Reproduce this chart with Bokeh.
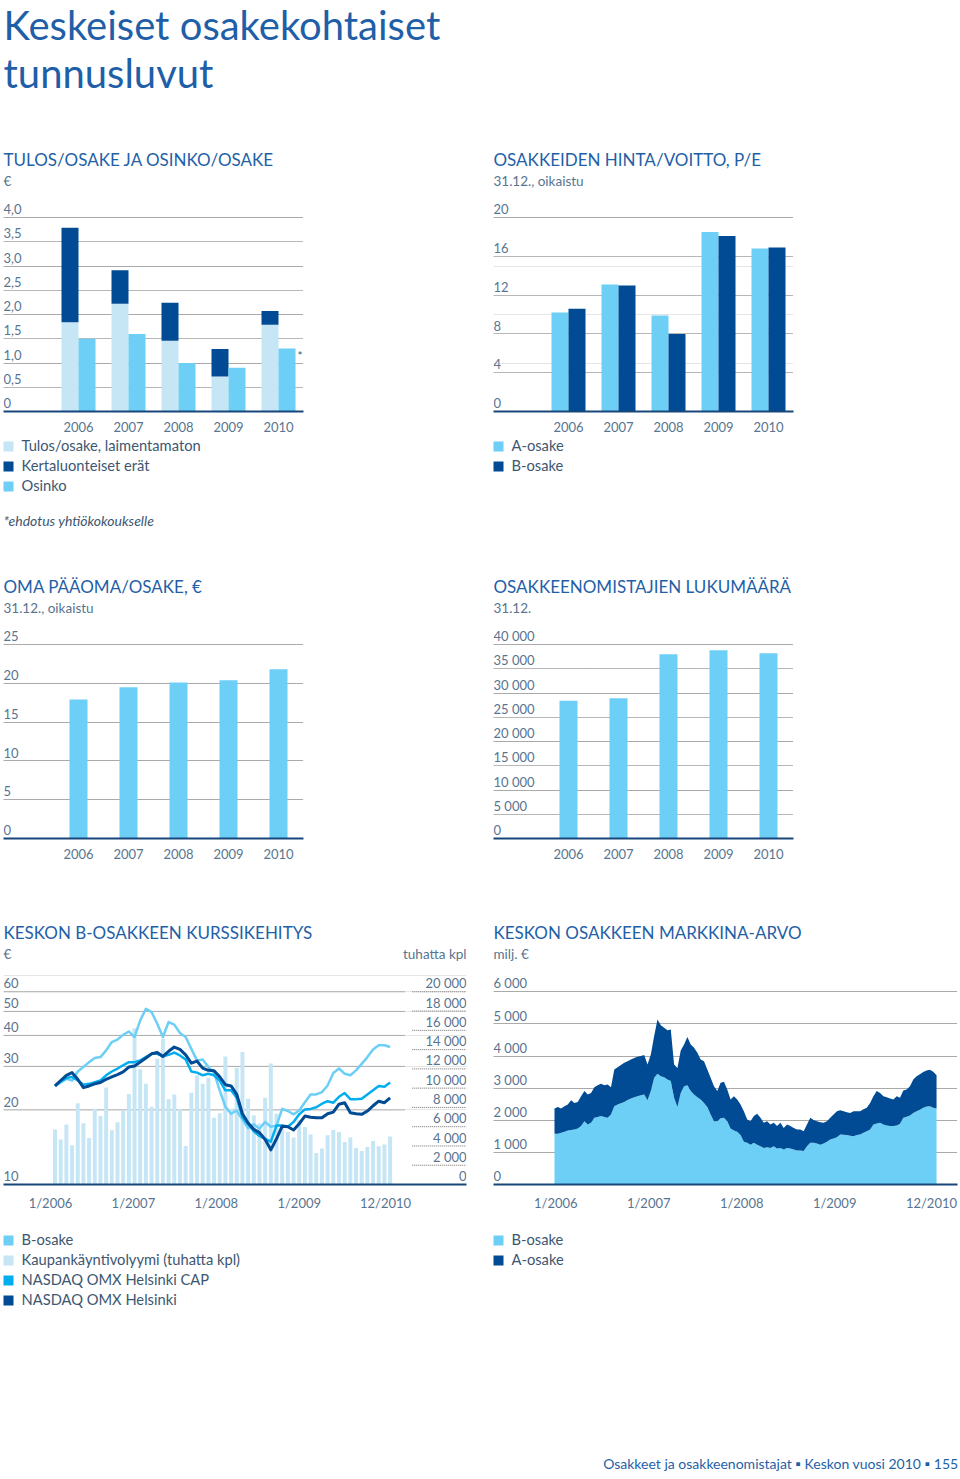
import numpy as np
from bokeh.plotting import figure
from bokeh.models import Range1d, FixedTicker, CustomJSTickFormatter, Grid, LinearScale
from bokeh.layouts import column, row
from bokeh.core.properties import value
from bokeh.embed import file_html
from bokeh.resources import INLINE

FONT = "Lato"
C_TITLE = "#1f5fa8"
C_TICK = "#58748f"
C_TEXT = "#3d5771"
C_PALE = "#c6e6f6"
C_LIGHT = "#6dcff6"
C_CYAN = "#00aeef"
C_DARK = "#004b93"
C_BASE = "#16467a"
C_GRID = "#6e6e6e"

# ---------------- data ----------------
years = ["2006", "2007", "2008", "2009", "2010"]
year_pos = [0, 1, 2, 3, 4]

eps_excl = [1.84, 2.22, 1.46, 0.72, 1.79]        # Tulos/osake, laimentamaton
eps_nonrec = [1.95, 0.69, 0.78, 0.57, 0.28]      # Kertaluonteiset erät
dividend = [1.50, 1.60, 1.00, 0.90, 1.30]        # Osinko
eps_ticks = [0, 0.5, 1.0, 1.5, 2.0, 2.5, 3.0, 3.5, 4.0]
eps_labels = ["0", "0,5", "1,0", "1,5", "2,0", "2,5", "3,0", "3,5", "4,0"]

pe_a = [10.2, 13.1, 9.9, 18.5, 16.8]
pe_b = [10.6, 13.0, 8.0, 18.1, 16.9]
pe_ticks = [0, 4, 8, 12, 16, 20]
pe_labels = ["0", "4", "8", "12", "16", "20"]

equity = [17.9, 19.5, 20.1, 20.4, 21.8]
eq_ticks = [0, 5, 10, 15, 20, 25]
eq_labels = ["0", "5", "10", "15", "20", "25"]

holders = [28400, 28900, 38000, 38800, 38200]
ho_ticks = [0, 5000, 10000, 15000, 20000, 25000, 30000, 35000, 40000]
ho_labels = ["0", "5 000", "10 000", "15 000", "20 000", "25 000", "30 000", "35 000", "40 000"]

months = list(range(60))
volume = [5700, 4660, 6220, 4070, 8420, 6350, 4830, 7870, 7110, 10080,
          5630, 6450, 7660, 9390, 16220, 11950, 10460, 8080, 13050, 15130,
          8840, 9350, 7830, 4000, 9530, 11320, 10460, 11080, 6940, 7390,
          13290, 7870, 12120, 13740, 8910, 7180, 6320, 9010, 12570, 7350,
          5870, 5450, 4870, 6660, 5970, 5180, 3280, 3730, 5110, 5660,
          5450, 4410, 4870, 3790, 3480, 3900, 4520, 3970, 4140, 4970]
b_price = [25.0, 25.8, 26.7, 26.3, 28.6, 29.8, 31.2, 32.4, 32.7, 34.8,
           37.6, 38.5, 40.2, 41.5, 39.4, 46.0, 51.2, 49.7, 44.6, 39.4,
           45.3, 44.2, 40.9, 39.4, 35.3, 31.7, 32.0, 29.8, 28.3, 24.0,
           20.6, 19.3, 19.9, 18.3, 16.9, 17.5, 16.8, 17.9, 17.1, 17.3,
           20.2, 19.8, 19.2, 19.9, 21.5, 23.1, 23.1, 23.6, 25.1, 28.2,
           29.4, 28.0, 27.6, 28.9, 30.7, 32.7, 35.1, 36.5, 36.5, 35.9]
cap_index = [25.0, 26.1, 26.9, 27.2, 26.3, 25.3, 25.5, 25.9, 26.3, 27.6,
             28.6, 29.4, 30.3, 31.2, 31.2, 31.7, 32.7, 33.7, 33.7, 32.9,
             33.4, 34.1, 33.2, 32.0, 28.6, 28.3, 27.6, 28.0, 27.6, 26.3,
             24.0, 24.0, 22.4, 18.7, 17.5, 16.4, 15.7, 15.3, 14.9, 17.3,
             17.3, 17.1, 17.9, 19.2, 20.1, 20.2, 20.5, 21.2, 21.7, 21.4,
             22.6, 23.4, 22.1, 22.1, 22.2, 23.1, 24.0, 25.0, 24.8, 25.8]
omx_index = [25.0, 26.3, 27.6, 28.3, 26.6, 24.6, 25.0, 25.5, 25.8, 26.6,
             27.2, 27.8, 28.5, 29.8, 30.1, 31.2, 32.4, 33.7, 34.1, 32.9,
             34.5, 35.9, 35.1, 33.4, 30.9, 31.5, 29.5, 28.9, 28.8, 27.2,
             25.3, 25.0, 23.1, 19.3, 17.7, 16.7, 16.2, 15.2, 13.8, 15.3,
             17.2, 17.1, 16.6, 17.6, 18.9, 18.7, 18.6, 18.6, 19.3, 19.6,
             21.1, 21.4, 19.5, 19.3, 19.2, 19.8, 20.8, 21.7, 21.4, 22.4]
price_ticks = [10, 20, 30, 40, 50, 60]
price_labels = ["10", "20", "30", "40", "50", "60"]
vol_ticks = [0, 2000, 4000, 6000, 8000, 10000, 12000, 14000, 16000, 18000, 20000]
vol_labels = ["0", "2 000", "4 000", "6 000", "8 000", "10 000", "12 000",
              "14 000", "16 000", "18 000", "20 000"]
kurssi_xpos = [-0.8, 13.8, 28.4, 43.0, 58.2]
kurssi_xlabels = ["1/2006", "1/2007", "1/2008", "1/2009", "12/2010"]

# market value, milj. EUR, sampled about every 16 days, 1/2006 - 12/2010
cap_total = [2370, 2410, 2370, 2440, 2490, 2620, 2540, 2570, 2750, 2910,
             2800, 2850, 3030, 3090, 3140, 3090, 3110, 3030, 3580, 3650,
             3720, 3790, 3840, 3890, 3940, 3980, 4000, 4030, 3740, 4050,
             4620, 5140, 4960, 4880, 4800, 4830, 3740, 3630, 4170, 4360,
             4590, 4360, 4260, 4100, 3890, 3840, 3580, 3320, 3060, 2910,
             3170, 3200, 2960, 2650, 2750, 2650, 2490,
             2280, 2020, 1970, 2130, 2200, 2080, 1920, 1970, 1870, 1920,
             1820, 1920, 1760, 1870, 1820, 1760, 1710, 1710, 1660, 1870,
             2080, 2010, 1970, 1940, 1920, 1970, 2080, 2180, 2280, 2310,
             2280, 2250, 2230, 2280, 2280, 2280, 2340, 2390, 2540, 2750,
             2910, 2850, 2750, 2720, 2680, 2650, 2750, 2700, 2930, 2960,
             3060, 3270, 3370, 3430, 3500, 3550, 3570, 3510, 3400]
cap_b = [1580, 1580, 1610, 1640, 1680, 1700, 1710, 1740, 1820, 1970,
         1870, 1920, 2080, 2100, 2130, 2100, 2080, 2180, 2440, 2490,
         2530, 2570, 2630, 2680, 2720, 2750, 2780, 2800, 2620, 2910,
         3320, 3450, 3370, 3340, 3270, 3220, 2700, 2410, 2850, 3060,
         3090, 2910, 2800, 2720, 2650, 2540, 2410, 2180, 1970, 1970,
         2060, 2080, 1970, 1740, 1680, 1640, 1540,
         1330, 1300, 1240, 1300, 1240, 1190, 1140, 1160, 1140, 1190,
         1120, 1140, 1090, 1140, 1120, 1090, 1060, 1060, 1040, 1190,
         1300, 1300, 1280, 1240, 1280, 1330, 1400, 1430, 1470, 1560,
         1550, 1540, 1520, 1500, 1540, 1560, 1610, 1660, 1710, 1870,
         1900, 1920, 1870, 1840, 1820, 1820, 1840, 1890, 2080, 2110,
         2150, 2230, 2280, 2330, 2390, 2430, 2440, 2390, 2370]
cap_t = np.linspace(0, 60, len(cap_total))
mv_ticks = [0, 1000, 2000, 3000, 4000, 5000, 6000]
mv_labels = ["0", "1 000", "2 000", "3 000", "4 000", "5 000", "6 000"]
mv_xpos = [0.2, 14.8, 29.4, 44.0, 59.2]
mv_xlabels = ["1/2006", "1/2007", "1/2008", "1/2009", "12/2010"]

SHIFT = 0.415  # baseline correction (fraction of font size)


# ---------------- helpers ----------------
def strip(h):
    p = figure(width=960, height=h, x_range=Range1d(0, 960), y_range=Range1d(h, 0),
               x_axis_type=None, y_axis_type=None, toolbar_location=None,
               output_backend="svg", min_border=0, outline_line_color=None, title=None)
    return p


def put(p, x, y, s, size, color, align="left", style="normal"):
    p.text(x=[x], y=[y - SHIFT * size], text=[s], text_font=value(FONT),
           text_font_size=f"{size}px", text_color=color, text_align=align,
           text_baseline="alphabetic", text_font_style=style)


def square(p, x, yc, color):
    p.rect(x=[x + 5], y=[yc], width=10, height=10, fill_color=color, line_color=None)


def chart(w, h, left, fw, fh, xr, yr, xpos, xlabels, **kw):
    p = figure(width=w, height=h, x_range=xr, y_range=yr, y_axis_location=None,
               toolbar_location=None, output_backend="svg", title=None,
               min_border_left=left, min_border_right=w - left - fw, min_border_top=0,
               min_border_bottom=h - fh, outline_line_color=None, **kw)
    p.xgrid.grid_line_color = None
    ax = p.xaxis[0]
    ax.axis_line_color = C_BASE
    ax.axis_line_width = 2
    ax.major_tick_line_color = None
    ax.minor_tick_line_color = None
    ax.major_label_text_font = FONT
    ax.major_label_text_font_size = "13px"
    ax.major_label_text_color = C_TICK
    ax.major_label_standoff = 4
    ax.ticker = FixedTicker(ticks=list(xpos))
    ax.formatter = CustomJSTickFormatter(
        args=dict(pos=list(xpos), labs=list(xlabels)),
        code="const i = pos.findIndex((v) => Math.abs(v - tick) < 1e-6); return i < 0 ? '' : labs[i];")
    return p


def ygrid(p, ticks):
    p.add_layout(Grid(dimension=1, ticker=FixedTicker(ticks=ticks), grid_line_color=C_GRID,
                      grid_line_dash="1 1", grid_line_width=1))


def ylabels(p, x, ticks, labels, align="left", **kw):
    p.text(x=[x] * len(ticks), y=ticks, text=labels, text_font=value(FONT),
           text_font_size="13px", text_color=C_TICK, text_align=align,
           text_baseline="alphabetic", y_offset=-3 - SHIFT * 13, **kw)


xs = np.array(year_pos, dtype=float)
TS = 17  # section title size

# ---------------- header strip ----------------
t0 = strip(200)
put(t0, 3, 41, "Keskeiset osakekohtaiset", 40, C_TITLE)
put(t0, 3, 89, "tunnusluvut", 40, C_TITLE)
put(t0, 3, 166, "TULOS/OSAKE JA OSINKO/OSAKE", TS, C_TITLE)
put(t0, 493, 166, "OSAKKEIDEN HINTA/VOITTO, P/E", TS, C_TITLE)
put(t0, 3, 186, "€", 13.5, C_TICK)
put(t0, 493, 186, "31.12., oikaistu", 13.5, C_TICK)

# ---------------- section 1 charts ----------------
p1 = chart(490, 236, 3, 300, 211, Range1d(-1.5, 4.5), Range1d(0, 4.0 * 211 / 194),
           year_pos, years)
ygrid(p1, eps_ticks[1:])
p1.vbar(x=xs - 0.17, width=0.34, bottom=0, top=eps_excl, fill_color=C_PALE, line_color=None)
p1.vbar(x=xs - 0.17, width=0.34, bottom=eps_excl, top=list(np.add(eps_excl, eps_nonrec)),
        fill_color=C_DARK, line_color=None)
p1.vbar(x=xs + 0.17, width=0.34, bottom=0, top=dividend, fill_color=C_LIGHT, line_color=None)
ylabels(p1, -1.5, eps_ticks, eps_labels)
p1.text(x=[xs[4] + 0.38], y=[dividend[4]], text=["*"], text_font=value(FONT),
        text_font_size="12px", text_color=C_TEXT, text_baseline="top")

p2 = chart(470, 236, 3, 300, 211, Range1d(-1.5, 4.5), Range1d(0, 20 * 211 / 194),
           year_pos, years)
ygrid(p2, pe_ticks[1:])
p2.vbar(x=xs - 0.17, width=0.34, top=pe_a, fill_color=C_LIGHT, line_color=None)
p2.vbar(x=xs + 0.17, width=0.34, top=pe_b, fill_color=C_DARK, line_color=None)
ylabels(p2, -1.5, pe_ticks, pe_labels)

# ---------------- strip 1 ----------------
LS = 14.7  # legend text size
t1 = strip(191)
for i, (lab, col) in enumerate([("Tulos/osake, laimentamaton", C_PALE),
                                ("Kertaluonteiset erät", C_DARK),
                                ("Osinko", C_LIGHT)]):
    square(t1, 3, 10 + 20 * i, col)
    put(t1, 21, 15 + 20 * i, lab, LS, C_TEXT)
for i, (lab, col) in enumerate([("A-osake", C_LIGHT), ("B-osake", C_DARK)]):
    square(t1, 493, 10 + 20 * i, col)
    put(t1, 511, 15 + 20 * i, lab, LS, C_TEXT)
put(t1, 3, 90, "*ehdotus yhtiökokoukselle", 14, C_TEXT, style="italic")
put(t1, 3, 157, "OMA PÄÄOMA/OSAKE, €", TS, C_TITLE)
put(t1, 493, 157, "OSAKKEENOMISTAJIEN LUKUMÄÄRÄ", TS, C_TITLE)
put(t1, 3, 177, "31.12., oikaistu", 13.5, C_TICK)
put(t1, 493, 177, "31.12.", 13.5, C_TICK)

# ---------------- section 2 charts ----------------
p3 = chart(490, 243, 3, 300, 211, Range1d(-1.5, 4.5), Range1d(0, 25 * 211 / 194),
           year_pos, years)
ygrid(p3, eq_ticks[1:])
p3.vbar(x=xs, width=0.36, top=equity, fill_color=C_LIGHT, line_color=None)
ylabels(p3, -1.5, eq_ticks, eq_labels)

p4 = chart(470, 243, 3, 300, 211, Range1d(-1.5, 4.5), Range1d(0, 40000 * 211 / 194),
           year_pos, years)
ygrid(p4, ho_ticks[1:])
p4.vbar(x=xs, width=0.36, top=holders, fill_color=C_LIGHT, line_color=None)
ylabels(p4, -1.5, ho_ticks, ho_labels)

# ---------------- strip 2 ----------------
t2 = strip(102)
put(t2, 3, 69, "KESKON B-OSAKKEEN KURSSIKEHITYS", TS, C_TITLE)
put(t2, 493, 69, "KESKON OSAKKEEN MARKKINA-ARVO", TS, C_TITLE)
put(t2, 3, 89, "€", 13.5, C_TICK)
put(t2, 466, 89, "tuhatta kpl", 13.5, C_TICK, align="right")
put(t2, 493, 89, "milj. €", 13.5, C_TICK)

# ---------------- section 3 charts ----------------
x0, x1 = -9.07, 72.45
p5 = chart(490, 243, 3, 463, 212, Range1d(x0, x1), Range1d(10, 10 * 6 ** (212 / 192.7)),
           kurssi_xpos, kurssi_xlabels, y_axis_type="log")
p5.extra_y_ranges = {"vol": Range1d(0, 20000 * 212 / 192.7)}
p5.extra_y_scales = {"vol": LinearScale()}
p5.segment(x0=x0, x1=61.7, y0=price_ticks[1:], y1=price_ticks[1:], line_color=C_GRID,
           line_dash="1 1", line_width=1)
p5.segment(x0=62.9, x1=x1, y0=vol_ticks[1:], y1=vol_ticks[1:], line_color=C_GRID,
           line_dash="1 1", line_width=1, y_range_name="vol")
p5.vbar(x=months, width=0.7, top=volume, bottom=0, fill_color=C_PALE, line_color=None,
        y_range_name="vol")
p5.line(months, b_price, line_color=C_LIGHT, line_width=2.5, line_join="round")
p5.line(months, cap_index, line_color=C_CYAN, line_width=2.5, line_join="round")
p5.line(months, omx_index, line_color=C_DARK, line_width=3, line_join="round")
ylabels(p5, x0, price_ticks, price_labels)
ylabels(p5, x1, vol_ticks, vol_labels, align="right", y_range_name="vol")

p6 = chart(470, 243, 3, 464, 212, Range1d(-9.58, 63.29), Range1d(0, 6000 * 212 / 192.7),
           mv_xpos, mv_xlabels)
ygrid(p6, mv_ticks[1:])
p6.varea(x=cap_t, y1=0, y2=cap_b, fill_color=C_LIGHT)
p6.varea(x=cap_t, y1=cap_b, y2=cap_total, fill_color=C_DARK)
ylabels(p6, -9.58, mv_ticks, mv_labels)

# ---------------- strip 3 ----------------
t3 = strip(264)
for i, (lab, col) in enumerate([("B-osake", C_LIGHT),
                                ("Kaupankäyntivolyymi (tuhatta kpl)", C_PALE),
                                ("NASDAQ OMX Helsinki CAP", C_CYAN),
                                ("NASDAQ OMX Helsinki", C_DARK)]):
    square(t3, 3, 25 + 20 * i, col)
    put(t3, 21, 30 + 20 * i, lab, LS, C_TEXT)
for i, (lab, col) in enumerate([("B-osake", C_LIGHT), ("A-osake", C_DARK)]):
    square(t3, 493, 25 + 20 * i, col)
    put(t3, 511, 30 + 20 * i, lab, LS, C_TEXT)
put(t3, 958, 254, "Osakkeet ja osakkeenomistajat ▪ Keskon vuosi 2010 ▪ 155", 14, C_TITLE,
    align="right")

layout = column(t0, row(p1, p2, spacing=0), t1, row(p3, p4, spacing=0), t2,
                row(p5, p6, spacing=0), t3, spacing=0,
                styles={"position": "absolute", "left": "0px", "top": "0px"})

open("out.html", "w").write(file_html(layout, INLINE))
